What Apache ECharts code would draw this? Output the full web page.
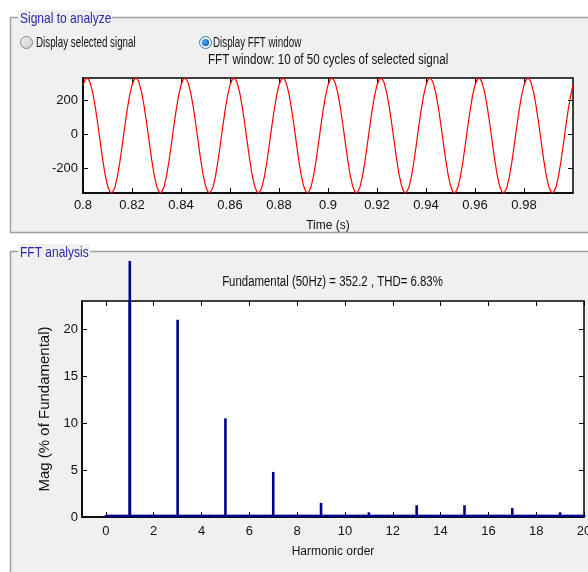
<!DOCTYPE html>
<html>
<head>
<meta charset="utf-8">
<script src="https://cdn.jsdelivr.net/npm/echarts@6/dist/echarts.min.js"></script>
<style>
html,body{margin:0;padding:0;background:#fff;}
#chart{width:588px;height:572px;}
</style>
</head>
<body>
<div id="chart"></div>
<script>
// ---------------- data ----------------
// Time signal (FFT window): 10 cycles of 50 Hz, sampled every 1 ms starting at 0.8 s
const signalStart = 0.8;
const signalStep = 0.001;
const signalValues = [
  289, 324, 328, 299, 241, 160, 63, -42, -146, -235, -302, -339, -342, -313, -252, -167, -66, 40, 140, 225,
  289, 324, 328, 299, 241, 160, 63, -42, -146, -235, -302, -339, -342, -313, -252, -167, -66, 40, 140, 225,
  289, 324, 328, 299, 241, 160, 63, -42, -146, -235, -302, -339, -342, -313, -252, -167, -66, 40, 140, 225,
  289, 324, 328, 299, 241, 160, 63, -42, -146, -235, -302, -339, -342, -313, -252, -167, -66, 40, 140, 225,
  289, 324, 328, 299, 241, 160, 63, -42, -146, -235, -302, -339, -342, -313, -252, -167, -66, 40, 140, 225,
  289, 324, 328, 299, 241, 160, 63, -42, -146, -235, -302, -339, -342, -313, -252, -167, -66, 40, 140, 225,
  289, 324, 328, 299, 241, 160, 63, -42, -146, -235, -302, -339, -342, -313, -252, -167, -66, 40, 140, 225,
  289, 324, 328, 299, 241, 160, 63, -42, -146, -235, -302, -339, -342, -313, -252, -167, -66, 40, 140, 225,
  289, 324, 328, 299, 241, 160, 63, -42, -146, -235, -302, -339, -342, -313, -252, -167, -66, 40, 140, 225,
  289, 324, 328, 299, 241, 160, 63, -42, -146, -235, -302, -339, -342, -313, -252, -167, -66, 40, 140, 225,
  289
];
const timeTicks = [0.8, 0.82, 0.84, 0.86, 0.88, 0.9, 0.92, 0.94, 0.96, 0.98];
const signalTicks = [-200, 0, 200];

// FFT spectrum: magnitude (% of fundamental) at harmonic orders 0, 0.1, 0.2 ... 20
const fftStep = 0.1;
const fftMag = [
  0.2,  0.25, 0.25, 0.25, 0.25, 0.25, 0.25, 0.25, 0.25, 0.25,
  100,  0.25, 0.25, 0.25, 0.25, 0.25, 0.25, 0.25, 0.25, 0.25,
  0.25, 0.25, 0.25, 0.25, 0.25, 0.25, 0.25, 0.25, 0.25, 0.25,
  21.0, 0.25, 0.25, 0.25, 0.25, 0.25, 0.25, 0.25, 0.25, 0.25,
  0.25, 0.25, 0.25, 0.25, 0.25, 0.25, 0.25, 0.25, 0.25, 0.25,
  10.5, 0.25, 0.25, 0.25, 0.25, 0.25, 0.25, 0.25, 0.25, 0.25,
  0.25, 0.25, 0.25, 0.25, 0.25, 0.25, 0.25, 0.25, 0.25, 0.25,
  4.8,  0.25, 0.25, 0.25, 0.25, 0.25, 0.25, 0.25, 0.25, 0.25,
  0.25, 0.25, 0.25, 0.25, 0.25, 0.25, 0.25, 0.25, 0.25, 0.25,
  1.5,  0.25, 0.25, 0.25, 0.25, 0.25, 0.25, 0.25, 0.25, 0.25,
  0.25, 0.25, 0.25, 0.25, 0.25, 0.25, 0.25, 0.25, 0.25, 0.25,
  0.5,  0.25, 0.25, 0.25, 0.25, 0.25, 0.25, 0.25, 0.25, 0.25,
  0.25, 0.25, 0.25, 0.25, 0.25, 0.25, 0.25, 0.25, 0.25, 0.25,
  1.25, 0.25, 0.25, 0.25, 0.25, 0.25, 0.25, 0.25, 0.25, 0.25,
  0.25, 0.25, 0.25, 0.25, 0.25, 0.25, 0.25, 0.25, 0.25, 0.25,
  1.25, 0.25, 0.25, 0.25, 0.25, 0.25, 0.25, 0.25, 0.25, 0.25,
  0.25, 0.25, 0.25, 0.25, 0.25, 0.25, 0.25, 0.25, 0.25, 0.25,
  0.95, 0.25, 0.25, 0.25, 0.25, 0.25, 0.25, 0.25, 0.25, 0.25,
  0.25, 0.25, 0.25, 0.25, 0.25, 0.25, 0.25, 0.25, 0.25, 0.25,
  0.5,  0.25, 0.25, 0.25, 0.25, 0.25, 0.25, 0.25, 0.25, 0.25,
  0.25
];
const harmonicTicks = [0, 2, 4, 6, 8, 10, 12, 14, 16, 18, 20];
const magTicks = [0, 5, 10, 15, 20];

// ---------------- build ----------------
const FONT = "'Liberation Sans', Arial, sans-serif";
const signalData = signalValues.map((v, i) => [+(signalStart + i * signalStep).toFixed(4), v]);
const fftData = fftMag.map((v, i) => [+(i * fftStep).toFixed(2), v]);
const magMax = 23;
const overflowData = fftData.filter(d => d[1] > magMax);

const chart = echarts.init(document.getElementById('chart'), null, { renderer: 'canvas' });

const tickStyle = { lineStyle: { color: '#000', width: 1 } };
function labelStyle(extra) {
  return Object.assign({ color: '#111', fontFamily: FONT, fontSize: 13 }, extra || {});
}
function txt(x, y, text, size, sx, color, align) {
  return { type: 'text', z: 10, x: x, y: y, scaleX: sx,
    style: { text: text, fill: color || '#111', font: size + 'px ' + FONT,
             textAlign: align || 'left', textVerticalAlign: 'middle' } };
}

const option = {
  backgroundColor: '#ffffff',
  animation: false,
  graphic: [
    // panels
    { type: 'rect', z: -5, shape: { x: 10.5, y: 17.5, width: 600, height: 215 },
      style: { fill: '#f0f0f0', stroke: '#a0a0a0', lineWidth: 1.5 } },
    { type: 'rect', z: -5, shape: { x: 10.5, y: 251.5, width: 600, height: 340 },
      style: { fill: '#f0f0f0', stroke: '#a0a0a0', lineWidth: 1.5 } },
    // panel titles
    { type: 'rect', z: -4, shape: { x: 18, y: 10, width: 94, height: 18 }, style: { fill: '#f0f0f0' } },
    txt(20, 19, 'Signal to analyze', 15, 0.8, '#2a2aa8'),
    { type: 'rect', z: -4, shape: { x: 18, y: 244, width: 72, height: 18 }, style: { fill: '#f0f0f0' } },
    txt(20, 253, 'FFT analysis', 15, 0.8, '#2a2aa8'),
    // radio buttons
    { type: 'circle', z: 10, shape: { cx: 26.5, cy: 42.5, r: 6 },
      style: { fill: new echarts.graphic.LinearGradient(0, 0, 1, 1, [{ offset: 0, color: '#f4f4f4' }, { offset: 1, color: '#c8c8c8' }]),
               stroke: '#8a8a8a', lineWidth: 1 } },
    txt(36, 43, 'Display selected signal', 14, 0.7),
    { type: 'circle', z: 10, shape: { cx: 205.5, cy: 42.5, r: 6 },
      style: { fill: '#e6f0fa', stroke: '#3c7fb1', lineWidth: 1 } },
    { type: 'circle', z: 11, shape: { cx: 205.5, cy: 42.5, r: 3.5 },
      style: { fill: new echarts.graphic.RadialGradient(0.4, 0.4, 0.7, [{ offset: 0, color: '#4fb3ff' }, { offset: 1, color: '#0a4fa0' }]) } },
    txt(213, 43, 'Display FFT window', 14, 0.7),
    txt(208, 60, 'FFT window: 10 of 50 cycles of selected signal', 14, 0.83),
    // FFT title
    txt(332.5, 282, 'Fundamental (50Hz) = 352.2 , THD= 6.83%', 14, 0.815, '#111', 'center')
  ],
  grid: [
    { left: 83, right: 15, top: 78, height: 115, show: true, backgroundColor: '#fff',
      borderColor: '#000', borderWidth: 1.5, containLabel: false, outerBoundsMode: 'none' },
    { left: 82, right: 4, top: 301, height: 216, show: true, backgroundColor: '#fff',
      borderColor: '#000', borderWidth: 1.5, containLabel: false, outerBoundsMode: 'none' },
    { left: 82, right: 4, top: 261, height: 256, show: false, containLabel: false, outerBoundsMode: 'none' }
  ],
  xAxis: [
    { gridIndex: 0, type: 'value', min: 0.8, max: 1.0, position: 'bottom',
      name: 'Time (s)', nameLocation: 'middle', nameGap: 27,
      nameTextStyle: labelStyle({ fontSize: 12 }),
      axisLine: { show: true, onZero: false, lineStyle: { color: '#000', width: 1.5 } },
      axisTick: Object.assign({ inside: true, length: 5, customValues: timeTicks }, tickStyle),
      axisLabel: labelStyle({ margin: 6, customValues: timeTicks, formatter: v => String(+v.toFixed(2)) }),
      splitLine: { show: false } },
    { gridIndex: 0, type: 'value', min: 0.8, max: 1.0, position: 'top',
      axisLine: { show: false, onZero: false },
      axisTick: Object.assign({ inside: true, length: 5, customValues: timeTicks }, tickStyle),
      axisLabel: { show: false }, splitLine: { show: false } },
    { gridIndex: 1, type: 'value', min: -1, max: 20, position: 'bottom',
      name: 'Harmonic order', nameLocation: 'middle', nameGap: 29,
      nameTextStyle: labelStyle({ fontSize: 12 }),
      axisLine: { show: true, onZero: false, lineStyle: { color: '#000', width: 1.5 } },
      axisTick: Object.assign({ inside: true, length: 5, customValues: harmonicTicks }, tickStyle),
      axisLabel: labelStyle({ margin: 8, customValues: harmonicTicks }),
      splitLine: { show: false } },
    { gridIndex: 1, type: 'value', min: -1, max: 20, position: 'top',
      axisLine: { show: false, onZero: false },
      axisTick: Object.assign({ inside: true, length: 5, customValues: harmonicTicks }, tickStyle),
      axisLabel: { show: false }, splitLine: { show: false } },
    { gridIndex: 2, type: 'value', min: -1, max: 20, show: false }
  ],
  yAxis: [
    { gridIndex: 0, type: 'value', min: -345, max: 330, position: 'left',
      axisLine: { show: true, onZero: false, lineStyle: { color: '#000', width: 1.5 } },
      axisTick: Object.assign({ inside: true, length: 5, customValues: signalTicks }, tickStyle),
      axisLabel: labelStyle({ margin: 5, customValues: signalTicks }),
      splitLine: { show: false } },
    { gridIndex: 0, type: 'value', min: -345, max: 330, position: 'right',
      axisLine: { show: false, onZero: false },
      axisTick: Object.assign({ inside: true, length: 5, customValues: signalTicks }, tickStyle),
      axisLabel: { show: false }, splitLine: { show: false } },
    { gridIndex: 1, type: 'value', min: 0, max: magMax, position: 'left',
      name: 'Mag (% of Fundamental)', nameLocation: 'middle', nameGap: 27, nameRotate: 90,
      nameTextStyle: labelStyle({ fontSize: 15 }),
      axisLine: { show: true, onZero: false, lineStyle: { color: '#000', width: 1.5 } },
      axisTick: Object.assign({ inside: true, length: 5, customValues: magTicks }, tickStyle),
      axisLabel: labelStyle({ margin: 4, customValues: magTicks }),
      splitLine: { show: false } },
    { gridIndex: 1, type: 'value', min: 0, max: magMax, position: 'right',
      axisLine: { show: false, onZero: false },
      axisTick: Object.assign({ inside: true, length: 5, customValues: magTicks }, tickStyle),
      axisLabel: { show: false }, splitLine: { show: false } },
    { gridIndex: 2, type: 'value', min: 0, max: magMax * 256 / 216, show: false }
  ],
  series: [
    { type: 'line', xAxisIndex: 0, yAxisIndex: 0, data: signalData, showSymbol: false, symbol: 'none',
      lineStyle: { color: '#ff0000', width: 1.2 }, clip: true, silent: true },
    { type: 'bar', xAxisIndex: 2, yAxisIndex: 2, data: fftData, barWidth: 2.6,
      itemStyle: { color: '#00008c' }, clip: true, silent: true },
    { type: 'bar', xAxisIndex: 4, yAxisIndex: 4, data: overflowData, barWidth: 2.6,
      itemStyle: { color: '#00008c' }, clip: true, silent: true }
  ]
};
chart.setOption(option);
</script>
</body>
</html>
